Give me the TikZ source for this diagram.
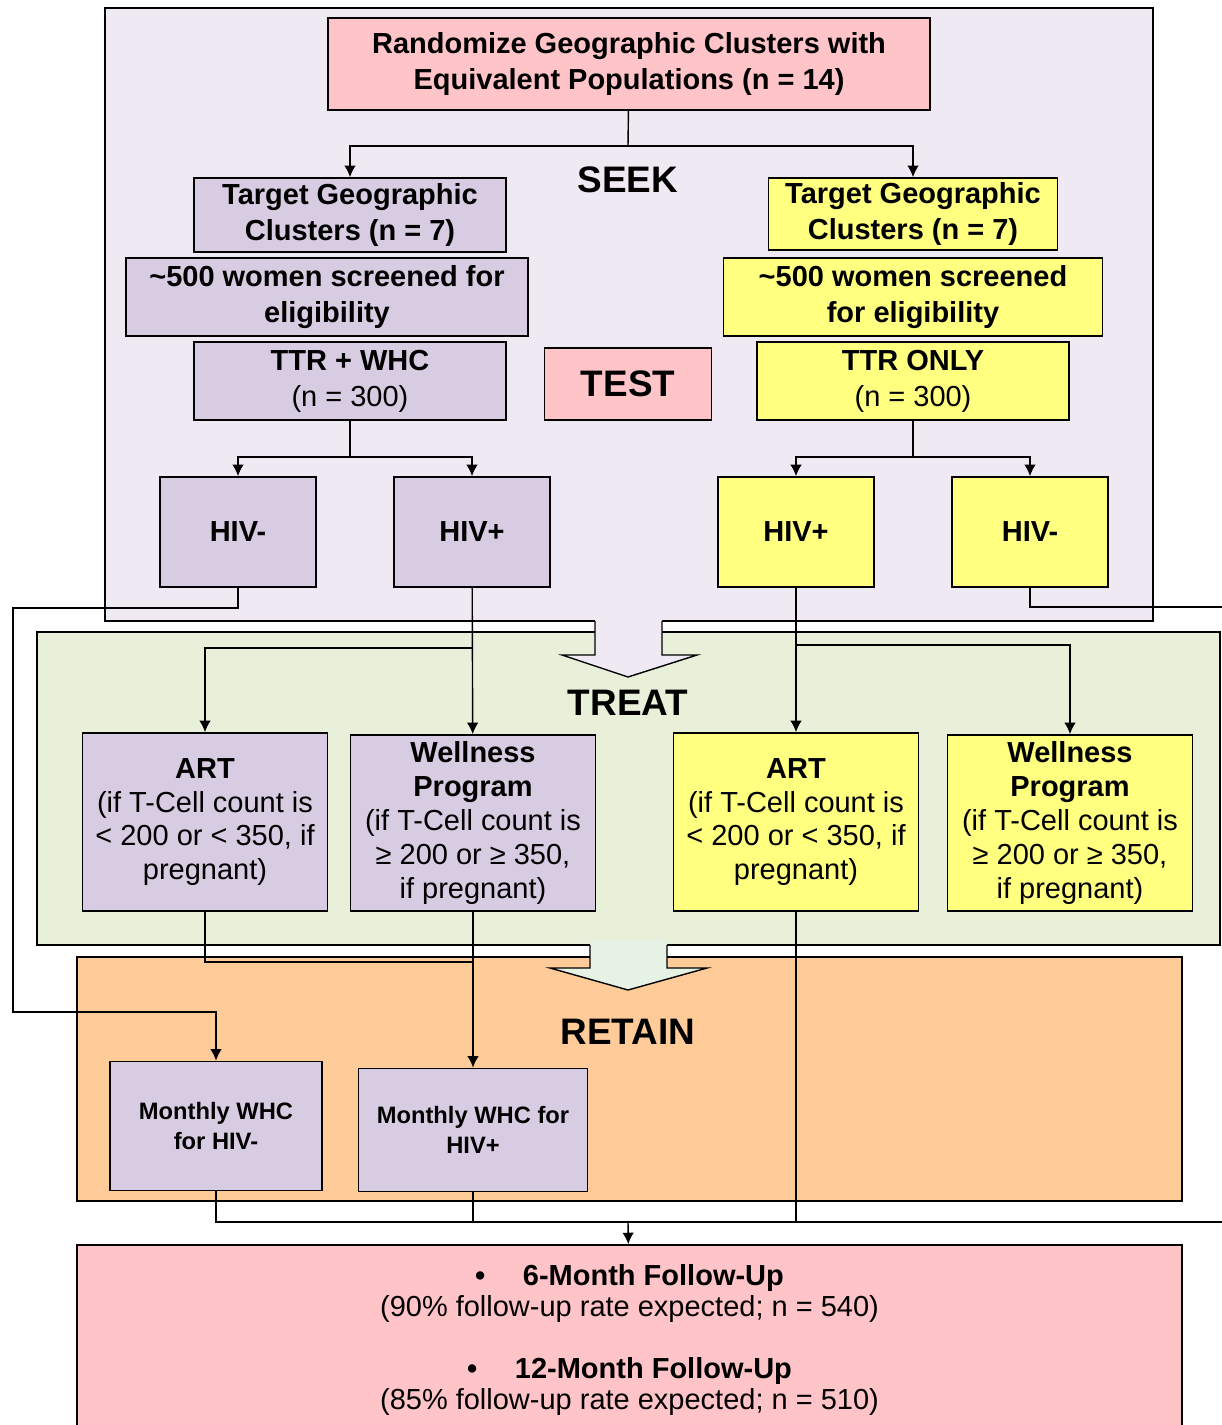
\documentclass[tikz,border=0pt]{standalone}
\usepackage{fontspec}
\setmainfont{Liberation Sans}
\usepackage{tikz}
\usetikzlibrary{shapes,arrows,arrows.meta,positioning,calc}
\usepackage{xcolor}
\definecolor{seekbg}{HTML}{EEE9F2}
\definecolor{treatbg}{HTML}{E8F0DA}
\definecolor{retainbg}{HTML}{FFCC99}
\definecolor{lilac}{HTML}{D8CCE2}
\definecolor{lemon}{HTML}{FFFF80}
\definecolor{rosebox}{HTML}{FFC4C8}
\definecolor{mint}{HTML}{E6F2E4}

\begin{document}
\begin{tikzpicture}[x=0.02cm, y=-0.02cm,
    box/.style={draw, line width=1pt, inner sep=0pt, align=center,
      font=\bfseries\fontsize{16.5}{20.5}\selectfont},
    purplebox/.style={box, fill=lilac},
    yellowbox/.style={box, fill=lemon},
    pinkbox/.style={box, fill=rosebox},
    tight/.style={font=\bfseries\fontsize{16.5}{19.3}\selectfont},
    small/.style={font=\bfseries\fontsize{13.5}{17.5}\selectfont},
    phase/.style={font=\bfseries\fontsize{21}{24}\selectfont},
    panel/.style={draw, line width=1pt},
    link/.style={line width=0.8pt},
    arr/.style={link, -{Latex[length=6.5pt,width=6.5pt]}}]
    \useasboundingbox (0,0) rectangle (1222,1425);
    \clip (0,0) rectangle (1222,1425);

    % Phase panels
    \draw[panel, fill=seekbg] (105,8) rectangle (1153,621);
    \draw[panel, fill=treatbg] (37,632) rectangle (1220,945);
    \draw[panel, fill=retainbg] (77,957) rectangle (1182,1201);

    % Block arrows between phases
    \fill[seekbg] (595,616) -- (595,655) -- (562,655) -- (628,677) -- (697,655) -- (662,655) -- (662,616) -- cycle;
    \draw[link] (595,621) -- (595,655) -- (562,655) -- (628,677) -- (697,655) -- (662,655) -- (662,621);
    \fill[mint] (590,940) -- (590,968) -- (550,968) -- (628,990) -- (707,968) -- (667,968) -- (667,940) -- cycle;
    \draw[link] (590,945) -- (590,968) -- (550,968) -- (628,990) -- (707,968) -- (667,968) -- (667,945);

    % Phase labels
    \node[phase] (seeklbl) at (628,180) {SEEK};
    \node[phase] (treatlbl) at (628,703) {TREAT};
    \node[phase] (retainlbl) at (628,1032) {RETAIN};

    % Seek / test
    \node[pinkbox, minimum width=12.04cm, minimum height=1.84cm] (rand) at (629,64) {Randomize Geographic Clusters with\\Equivalent Populations (n = 14)};
    \node[purplebox, minimum width=6.24cm, minimum height=1.48cm] (tgtL) at (350,215) {Target Geographic\\Clusters (n = 7)};
    \node[purplebox, minimum width=8.04cm, minimum height=1.56cm] (scrL) at (327,297) {\textasciitilde500 women screened for\\eligibility};
    \node[purplebox, minimum width=6.24cm, minimum height=1.56cm] (ttrL) at (350,381) {TTR + WHC\\\mdseries(n = 300)};
    \node[pinkbox, minimum width=3.34cm, minimum height=1.44cm, font=\bfseries\fontsize{21}{24}\selectfont] (test) at (628,384) {TEST};
    \node[yellowbox, minimum width=5.78cm, minimum height=1.44cm] (tgtR) at (913,214) {Target Geographic\\Clusters (n = 7)};
    \node[yellowbox, minimum width=7.58cm, minimum height=1.56cm] (scrR) at (913,297) {\textasciitilde500 women screened\\for eligibility};
    \node[yellowbox, minimum width=6.24cm, minimum height=1.56cm] (ttrR) at (913,381) {TTR ONLY\\\mdseries(n = 300)};

    \node[purplebox, minimum width=3.12cm, minimum height=2.2cm] (hivnL) at (238,532) {HIV-};
    \node[purplebox, minimum width=3.12cm, minimum height=2.2cm] (hivpL) at (472,532) {HIV+};
    \node[yellowbox, minimum width=3.12cm, minimum height=2.2cm] (hivpR) at (796,532) {HIV+};
    \node[yellowbox, minimum width=3.12cm, minimum height=2.2cm] (hivnR) at (1030,532) {HIV-};

    % Treat
    \node[purplebox, tight, minimum width=4.9cm, minimum height=3.56cm] (artL) at (205,822) {ART\\\mdseries(if T-Cell count is\\\mdseries< 200 or < 350, if\\\mdseries pregnant)};
    \node[purplebox, tight, minimum width=4.9cm, minimum height=3.52cm] (welL) at (473,823) {Wellness\\Program\\\mdseries(if T-Cell count is\\\mdseries≥ 200 or ≥ 350,\\\mdseries if pregnant)};
    \node[yellowbox, tight, minimum width=4.9cm, minimum height=3.56cm] (artR) at (796,822) {ART\\\mdseries(if T-Cell count is\\\mdseries< 200 or < 350, if\\\mdseries pregnant)};
    \node[yellowbox, tight, minimum width=4.9cm, minimum height=3.52cm] (welR) at (1070,823) {Wellness\\Program\\\mdseries(if T-Cell count is\\\mdseries≥ 200 or ≥ 350,\\\mdseries if pregnant)};

    % Retain
    \node[purplebox, small, minimum width=4.24cm, minimum height=2.58cm] (mwhcN) at (216,1126) {Monthly WHC\\for HIV-};
    \node[purplebox, small, minimum width=4.58cm, minimum height=2.46cm] (mwhcP) at (473,1130) {Monthly WHC for\\HIV+};

    % Follow-up
    \node[pinkbox, font=\fontsize{16.5}{17.5}\selectfont, minimum width=22.1cm, minimum height=3.8cm] (follow) at (629.5,1340) {\textbf{\textbullet\hspace{1.3em}6-Month Follow-Up}\\(90\% follow-up rate expected; n = 540)\\[18pt]\textbf{\textbullet\hspace{1.3em}12-Month Follow-Up}\\(85\% follow-up rate expected; n = 510)};

    % Coordinates for splits and rails
    \coordinate (topsplit) at (628,146);
    \coordinate (splitL) at (350,457);
    \coordinate (splitR) at (913,457);
    \coordinate (brL) at (473,648);
    \coordinate (brR) at (796,645);
    \coordinate (joinL) at (473,962);
    \coordinate (exitR) at (1222,607);
    \coordinate (railR) at (1222,1222);
    \coordinate (railmid) at (628,1222);

    % Arrows
    \draw[link] (rand) -- (topsplit);
    \draw[arr] (topsplit) -| (tgtL);
    \draw[arr] (topsplit) -| (tgtR);
    \draw[link] (ttrL) -- (splitL);
    \draw[arr] (splitL) -| (hivnL);
    \draw[arr] (splitL) -| (hivpL);
    \draw[link] (ttrR) -- (splitR);
    \draw[arr] (splitR) -| (hivpR);
    \draw[arr] (splitR) -| (hivnR);

    \draw[arr] (hivnL.south) -- ++(0,20) -| (13,1012) -| (mwhcN);
    \draw[arr] (hivpL) -- (welL);
    \draw[arr] (brL) -| (artL);
    \draw[arr] (hivpR) -- (artR);
    \draw[arr] (brR) -| (welR);
    \draw[link] (hivnR) |- (exitR);

    \draw[arr] (welL) -- (mwhcP);
    \draw[link] (artL) |- (joinL);
    \draw[link] (artR) -- (artR |- railR);
    \draw[link] (mwhcN) |- (railR);
    \draw[link] (mwhcP) -- (mwhcP |- railR);
    \draw[arr] (railmid) -- (follow);
\end{tikzpicture}
\end{document}
